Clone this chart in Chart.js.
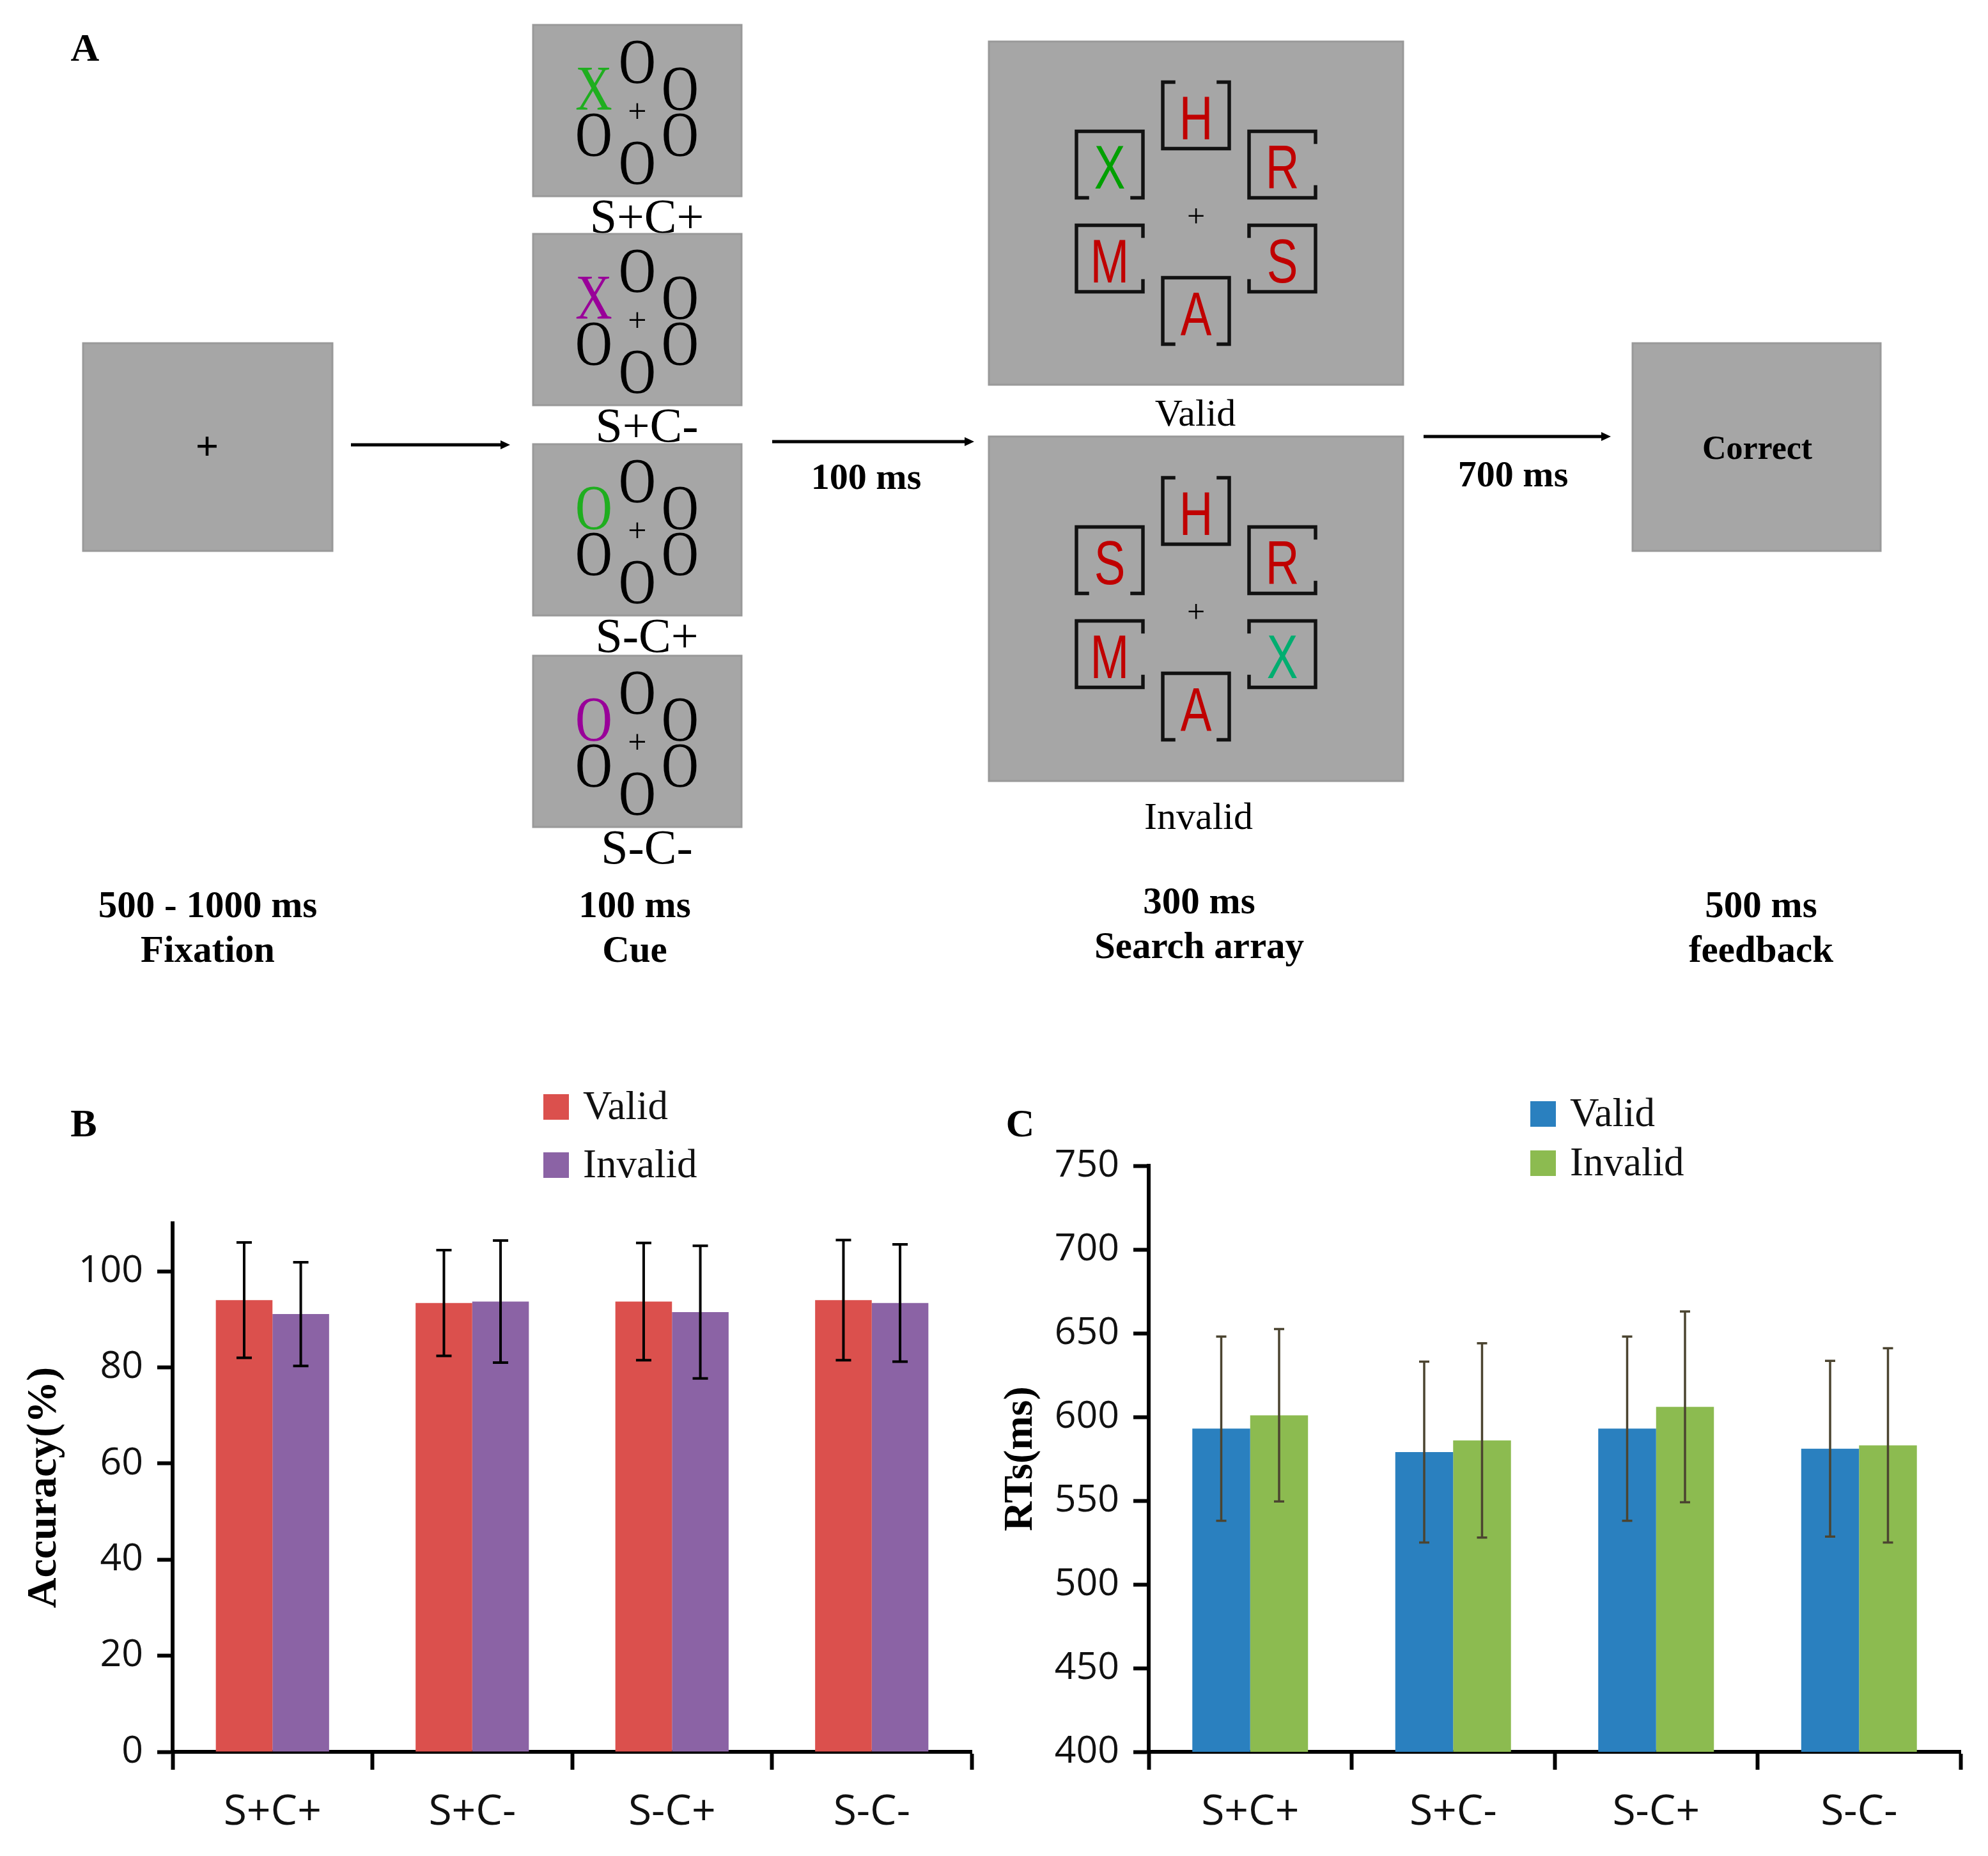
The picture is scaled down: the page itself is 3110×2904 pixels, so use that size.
<!DOCTYPE html>
<html>
<head>
<meta charset="utf-8">
<script src="https://cdn.jsdelivr.net/npm/chart.js@4.4.1/dist/chart.umd.min.js"></script>
<style>
  body { margin: 0; background: #fff; }
  #page { position: relative; width: 3110px; height: 2904px; background: #fff; overflow: hidden; }
  #panelsvg { position: absolute; left: 0; top: 0; }
  .chartbox { position: absolute; top: 1650px; height: 1254px; }
</style>
</head>
<body>
<div id="page">
  <div class="chartbox" style="left:0px;width:1555px;"><canvas id="accuracychart" width="1555" height="1254"></canvas></div>
  <div class="chartbox" style="left:1555px;width:1555px;"><canvas id="rtchart" width="1555" height="1254"></canvas></div>
  <svg id="panelsvg" width="3110" height="2904" xmlns="http://www.w3.org/2000/svg"></svg>
</div>
<script>
// the data
var conditionNames = ['S+C+', 'S+C-', 'S-C+', 'S-C-'];
var seriesNames = ['Valid', 'Invalid'];

// panel B: accuracy (%)
var accuracyValid = [94.0, 93.4, 93.7, 94.0];
var accuracyInvalid = [91.1, 93.7, 91.5, 93.4];
var accuracyValidErr = [12.0, 11.0, 12.2, 12.5];
var accuracyInvalidErr = [10.8, 12.7, 13.8, 12.2];
var accuracyTicks = [0, 20, 40, 60, 80, 100];

// panel C: reaction times (ms)
var rtValid = [593, 579, 593, 581];
var rtInvalid = [601, 586, 606, 583];
var rtValidErr = [55, 54, 55, 52.5];
var rtInvalidErr = [51.5, 58, 57, 58];
var rtTicks = [400, 450, 500, 550, 600, 650, 700, 750];

// panel A texts
var cueFirstLetters = ['X', 'X', 'O', 'O'];
var cueFirstColors = ['#1fae1f', '#990099', '#1fae1f', '#990099'];
var stageTimes = ['500 - 1000 ms', '100 ms', '300 ms', '500 ms'];
var stageNames = ['Fixation', 'Cue', 'Search array', 'feedback'];
var validLetters = ['H', 'X', 'R', 'M', 'S', 'A'];
var invalidLetters = ['H', 'S', 'R', 'M', 'X', 'A'];

// ---------- panel A, drawn as svg ----------
var svgNS = 'http://www.w3.org/2000/svg';
var theSvg = document.getElementById('panelsvg');
var serif = '"Liberation Serif", "Times New Roman", serif';

function addEl(tag, attrs, text) {
  var el = document.createElementNS(svgNS, tag);
  for (var k in attrs) {
    el.setAttribute(k, attrs[k]);
  }
  if (text !== undefined) {
    el.textContent = text;
  }
  theSvg.appendChild(el);
  return el;
}

function addBox(x, y, w, h) {
  addEl('rect', { x: x, y: y, width: w, height: h, fill: '#a6a6a6', stroke: '#999999', 'stroke-width': 3 });
}

// text centred on x; sx squeezes it sideways
function addText(str, x, y, size, opts) {
  opts = opts || {};
  var sx = opts.sx || 1;
  return addEl('text', {
    x: 0, y: 0,
    transform: 'translate(' + x + ',' + y + ') scale(' + sx + ',1)',
    'font-family': opts.family || serif,
    'font-size': size,
    'font-weight': opts.bold ? 'bold' : 'normal',
    'text-anchor': 'middle',
    'dominant-baseline': opts.central ? 'central' : 'alphabetic',
    fill: opts.color || '#000'
  }, str);
}

function addArrow(x1, x2, y) {
  addEl('line', { x1: x1, y1: y, x2: x2 - 10, y2: y, stroke: '#000', 'stroke-width': 5 });
  addEl('polygon', { points: (x2 - 15) + ',' + (y - 7) + ' ' + x2 + ',' + y + ' ' + (x2 - 15) + ',' + (y + 7), fill: '#000' });
}

addText('A', 133, 95, 62, { bold: true });

// fixation
addBox(130, 537, 390, 325);
addText('+', 324, 697, 64, { bold: true, central: true });
addArrow(549, 798, 696);

// four cue displays
var cueTops = [39, 366, 695, 1026];
var ringSpots = [[-68, -36], [0, -78], [67, -36], [67, 36], [0, 80], [-68, 36]];
for (var c = 0; c < 4; c++) {
  var cx = 997;
  var cy = cueTops[c] + 134;
  addBox(834, cueTops[c], 326, 268);
  for (var r = 0; r < ringSpots.length; r++) {
    var ch = r === 0 ? cueFirstLetters[c] : 'O';
    var col = r === 0 ? cueFirstColors[c] : '#000';
    addText(ch, cx + ringSpots[r][0], cy + ringSpots[r][1], 100, { central: true, sx: 0.8, color: col });
  }
  addText('+', cx, cy, 52, { central: true });
  addText(conditionNames[c], 1012, cueTops[c] + 268 + 57, 76);
}

addArrow(1208, 1524, 691);
addText('100 ms', 1355, 765, 58, { bold: true });

// search arrays with bracket frames
var frameSpots = [[0, -153], [-135, -76], [135, -76], [-135, 71], [135, 71], [0, 153]];
var openSides = ['top', 'bottom', 'right', 'right', 'left', 'bottom'];

function addFrame(x, y, open) {
  var h = 52;
  var tk = 17;
  var l = x - h, rr = x + h, t = y - h, b = y + h;
  var d = '';
  d += open === 'top' ? 'M' + l + ',' + t + 'L' + (l + tk) + ',' + t + 'M' + (rr - tk) + ',' + t + 'L' + rr + ',' + t : 'M' + l + ',' + t + 'L' + rr + ',' + t;
  d += open === 'bottom' ? 'M' + l + ',' + b + 'L' + (l + tk) + ',' + b + 'M' + (rr - tk) + ',' + b + 'L' + rr + ',' + b : 'M' + l + ',' + b + 'L' + rr + ',' + b;
  d += open === 'left' ? 'M' + l + ',' + t + 'L' + l + ',' + (t + tk) + 'M' + l + ',' + (b - tk) + 'L' + l + ',' + b : 'M' + l + ',' + t + 'L' + l + ',' + b;
  d += open === 'right' ? 'M' + rr + ',' + t + 'L' + rr + ',' + (t + tk) + 'M' + rr + ',' + (b - tk) + 'L' + rr + ',' + b : 'M' + rr + ',' + t + 'L' + rr + ',' + b;
  addEl('path', { d: d, fill: 'none', stroke: '#121212', 'stroke-width': 5.5, 'stroke-linecap': 'square' });
}

function searchArray(top, height, letters, targetSpot, targetColor) {
  var cx = 1871;
  var cy = top + height / 2;
  addBox(1547, top, 648, height);
  for (var i = 0; i < frameSpots.length; i++) {
    var fx = cx + frameSpots[i][0];
    var fy = cy + frameSpots[i][1];
    addFrame(fx, fy, openSides[i]);
    addText(letters[i], fx, fy + 4, 96, {
      family: '"Liberation Sans", Arial, sans-serif', central: true, sx: 0.76,
      color: i === targetSpot ? targetColor : '#c00000'
    });
  }
  addText('+', cx, cy + 4, 50, { central: true });
}

searchArray(65, 537, validLetters, 1, '#00a000');
addText(seriesNames[0], 1870, 666, 60);
searchArray(683, 539, invalidLetters, 4, '#00ae70');
addText(seriesNames[1], 1875, 1297, 60);

addArrow(2227, 2520, 683);
addText('700 ms', 2367, 761, 58, { bold: true });

addBox(2554, 537, 388, 325);
addText('Correct', 2749, 718, 52, { bold: true });

// stage captions under panel A
var stageX = [325, 993, 1876, 2755];
var stageY = [1435, 1435, 1429, 1435];
for (var s = 0; s < 4; s++) {
  addText(stageTimes[s], stageX[s], stageY[s], 59, { bold: true });
  addText(stageNames[s], stageX[s], stageY[s] + 70, 59, { bold: true });
}

addText('B', 131, 1778, 62, { bold: true });
addText('C', 1596, 1778, 62, { bold: true });

// ---------- panels B and C, chart.js ----------

// error bars from the bar elements and the y scale
function makeErrorBars(color, lineWidth, capHalf) {
  return {
    id: 'errorbars',
    afterDatasetsDraw: function (chart) {
      var ctx = chart.ctx;
      var yScale = chart.scales.y;
      ctx.save();
      ctx.strokeStyle = color;
      ctx.lineWidth = lineWidth;
      chart.data.datasets.forEach(function (ds, i) {
        var meta = chart.getDatasetMeta(i);
        meta.data.forEach(function (bar, j) {
          var v = ds.data[j];
          var e = ds.errorBars[j];
          var yTop = yScale.getPixelForValue(v + e);
          var yBot = yScale.getPixelForValue(v - e);
          ctx.beginPath();
          ctx.moveTo(bar.x, yTop);
          ctx.lineTo(bar.x, yBot);
          ctx.moveTo(bar.x - capHalf, yTop);
          ctx.lineTo(bar.x + capHalf, yTop);
          ctx.moveTo(bar.x - capHalf, yBot);
          ctx.lineTo(bar.x + capHalf, yBot);
          ctx.stroke();
        });
      });
      ctx.restore();
    }
  };
}

// stacked legend, squares then names
function makeLegend(left, tops) {
  return {
    id: 'stackedlegend',
    afterDraw: function (chart) {
      var ctx = chart.ctx;
      ctx.save();
      ctx.font = '63px "Liberation Serif", serif';
      ctx.textBaseline = 'middle';
      chart.data.datasets.forEach(function (ds, i) {
        ctx.fillStyle = ds.backgroundColor;
        ctx.fillRect(left, tops[i], 40, 40);
        ctx.fillStyle = '#111';
        ctx.fillText(ds.label, left + 62, tops[i] + 22);
      });
      ctx.restore();
    }
  };
}

function axisOptions(yMin, yMax, tickList, title, titleSize, yWidth, titlePad) {
  return {
    x: {
      grid: { offset: true, drawOnChartArea: false, drawTicks: true, tickLength: 28, tickWidth: 6, tickColor: '#000' },
      border: { display: true, color: '#000', width: 6 },
      ticks: { color: '#111', font: { family: '"Open Sans", sans-serif', size: 66 }, padding: 28 },
      afterFit: function (scale) { scale.height = 163; }
    },
    y: {
      min: yMin,
      max: yMax,
      grid: { drawOnChartArea: false, drawTicks: true, tickLength: 24, tickWidth: 6, tickColor: '#000' },
      border: { display: true, color: '#000', width: 6 },
      ticks: { color: '#111', font: { family: '"Open Sans", sans-serif', size: 59 }, padding: 22 },
      afterBuildTicks: function (scale) {
        scale.ticks = tickList.map(function (v) { return { value: v }; });
      },
      afterFit: function (scale) { scale.width = yWidth; },
      title: {
        display: true,
        text: title,
        color: '#000',
        font: { family: '"Liberation Serif", serif', size: titleSize, weight: 'bold' },
        padding: { top: titlePad, bottom: 0 }
      }
    }
  };
}

var accuracyChart = new Chart(document.getElementById('accuracychart').getContext('2d'), {
  type: 'bar',
  data: {
    labels: conditionNames,
    datasets: [
      { label: seriesNames[0], data: accuracyValid, errorBars: accuracyValidErr, backgroundColor: '#db504d' },
      { label: seriesNames[1], data: accuracyInvalid, errorBars: accuracyInvalidErr, backgroundColor: '#8b63a5' }
    ]
  },
  options: {
    responsive: false,
    animation: false,
    datasets: { bar: { barPercentage: 1, categoryPercentage: 0.567, borderWidth: 0 } },
    layout: { padding: { top: 264, right: 35, left: 0, bottom: 0 } },
    plugins: { legend: { display: false }, tooltip: { enabled: false } },
    scales: axisOptions(0, 110, accuracyTicks, 'Accuracy(%)', 66, 270, 30)
  },
  plugins: [makeErrorBars('#000', 4, 12), makeLegend(850, [62, 153])]
});

var rtChart = new Chart(document.getElementById('rtchart').getContext('2d'), {
  type: 'bar',
  data: {
    labels: conditionNames,
    datasets: [
      { label: seriesNames[0], data: rtValid, errorBars: rtValidErr, backgroundColor: '#2a80bf' },
      { label: seriesNames[1], data: rtInvalid, errorBars: rtInvalidErr, backgroundColor: '#8cbb50' }
    ]
  },
  options: {
    responsive: false,
    animation: false,
    datasets: { bar: { barPercentage: 1, categoryPercentage: 0.57, borderWidth: 0 } },
    layout: { padding: { top: 174, right: 43, left: 0, bottom: 0 } },
    plugins: { legend: { display: false }, tooltip: { enabled: false } },
    scales: axisOptions(400, 750, rtTicks, 'RTs(ms)', 64, 242, 4)
  },
  plugins: [makeErrorBars('#4b4430', 3.5, 8), makeLegend(839, [73, 150])]
});
</script>
</body>
</html>
